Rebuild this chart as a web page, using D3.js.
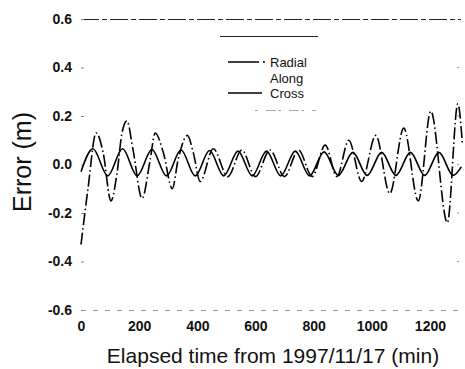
<!DOCTYPE html>
<html>
<head>
<meta charset="utf-8">
<script src="https://cdn.jsdelivr.net/npm/d3@7"></script>
<style>
  html, body { margin: 0; padding: 0; background: #fff; }
  svg { display: block; font-family: "Liberation Sans", Arial, sans-serif; }
</style>
</head>
<body>
<svg id="chart" width="465" height="369"></svg>
<script>
// ── Data ───────────────────────────────────────────────────────────────────
// [elapsed minutes, error in metres] at the turning points of each curve
const radial = [
  [0, -0.33], [24, -0.10], [52, 0.13], [76, 0.05], [103, -0.15], [124, -0.035],
  [141, 0.13], [158, 0.18], [179, 0.06], [210, -0.14], [238, 0.02], [255, 0.13],
  [283, 0.05], [314, -0.10], [334, 0.02], [366, 0.12], [386, 0.05], [410, -0.07],
  [455, 0.065], [505, -0.05], [553, 0.06], [600, -0.05], [650, 0.06], [700, -0.05],
  [748, 0.06], [795, -0.05], [840, 0.08], [880, -0.05], [921, 0.10], [965, -0.07],
  [1014, 0.12], [1062, -0.12], [1110, 0.15], [1160, -0.15], [1203, 0.22],
  [1260, -0.24], [1296, 0.25], [1312, 0.08]
];

const cross = [
  [0, -0.03], [41, 0.065], [92, -0.047], [143, 0.065], [193, -0.047], [244, 0.062],
  [294, -0.047], [344, 0.06], [393, -0.047], [442, 0.058], [491, -0.047], [540, 0.055],
  [589, -0.047], [638, 0.055], [687, -0.047], [737, 0.055], [786, -0.047], [836, 0.052],
  [885, -0.045], [935, 0.05], [984, -0.045], [1034, 0.05], [1083, -0.045], [1133, 0.05],
  [1182, -0.045], [1231, 0.05], [1280, -0.045], [1308, -0.01]
];

// "Along" is listed in the legend but its trace is not visible in the scan
const along = [];

const seriesNames = ['Radial', 'Along', 'Cross'];
const xTicks = [0, 200, 400, 600, 800, 1000, 1200];
const yTicks = [-0.6, -0.4, -0.2, 0.0, 0.2, 0.4, 0.6];
const yTickLabels = ['-0.6', '-0.4', '-0.2', '0.0', '0.2', '0.4', '0.6'];

// ── Layout ─────────────────────────────────────────────────────────────────
const plot = { left: 81, right: 459, top: 19, bottom: 310 };

const x = d3.scaleLinear().domain([0, 1300]).range([plot.left, plot.right]);
const y = d3.scaleLinear().domain([-0.6, 0.6]).range([plot.bottom, plot.top]);

const svg = d3.select('#chart');

// ── Frame (faint, broken like the scan) ────────────────────────────────────
svg.append('line')
  .attr('x1', plot.left).attr('x2', plot.right + 2)
  .attr('y1', plot.top + 0.5).attr('y2', plot.top + 0.5)
  .attr('stroke', '#222').attr('stroke-width', 1)
  .attr('stroke-dasharray', '18,3,5,3');

svg.append('line')
  .attr('x1', plot.left).attr('x2', plot.right + 2)
  .attr('y1', plot.bottom + 0.5).attr('y2', plot.bottom + 0.5)
  .attr('stroke', '#999').attr('stroke-width', 1)
  .attr('stroke-dasharray', '5,7');

// ── Axes ───────────────────────────────────────────────────────────────────
const yAxis = svg.append('g')
  .attr('transform', `translate(${plot.left},0)`)
  .call(d3.axisLeft(y)
    .tickValues(yTicks)
    .tickFormat((d, i) => yTickLabels[i])
    .tickSizeInner(-3)
    .tickSizeOuter(0)
    .tickPadding(9));

yAxis.select('.domain').remove();
yAxis.selectAll('.tick line').attr('stroke', '#888');
yAxis.selectAll('text')
  .attr('font-size', 14).attr('font-weight', 'bold')
  .attr('font-family', '"Liberation Sans", Arial, sans-serif')
  .attr('fill', '#111');

// small tick marks on the right edge
svg.append('g')
  .selectAll('line')
  .data(yTicks.slice(1, -1))
  .join('line')
    .attr('x1', plot.right - 2).attr('x2', plot.right)
    .attr('y1', d => y(d)).attr('y2', d => y(d))
    .attr('stroke', '#999');

const xAxis = svg.append('g')
  .attr('transform', `translate(0,${plot.bottom})`)
  .call(d3.axisBottom(x)
    .tickValues(xTicks)
    .tickFormat(d3.format('d'))
    .tickSize(0)
    .tickPadding(11));

xAxis.select('.domain').remove();
xAxis.selectAll('text')
  .attr('font-size', 14).attr('font-weight', 'bold')
  .attr('font-family', '"Liberation Sans", Arial, sans-serif')
  .attr('fill', '#111');

// ── Axis titles ────────────────────────────────────────────────────────────
svg.append('text')
  .attr('x', 273).attr('y', 363)
  .attr('text-anchor', 'middle')
  .attr('font-size', 21)
  .attr('fill', '#111')
  .text('Elapsed time from 1997/11/17 (min)');

svg.append('text')
  .attr('transform', 'translate(31,162) rotate(-90)')
  .attr('text-anchor', 'middle')
  .attr('font-size', 25)
  .attr('fill', '#111')
  .text('Error (m)');

// ── Series ─────────────────────────────────────────────────────────────────
const line = d3.line()
  .x(d => x(d[0]))
  .y(d => y(d[1]))
  .curve(d3.curveMonotoneX);

svg.append('path')
  .datum(cross)
  .attr('d', line)
  .attr('fill', 'none')
  .attr('stroke', '#000')
  .attr('stroke-width', 1.6);

svg.append('path')
  .datum(radial)
  .attr('d', line)
  .attr('fill', 'none')
  .attr('stroke', '#000')
  .attr('stroke-width', 1.6)
  .attr('stroke-dasharray', '12,3,1.5,3');

// ── Legend ─────────────────────────────────────────────────────────────────
const legend = svg.append('g').attr('class', 'legend');

legend.append('line')
  .attr('x1', 220).attr('x2', 318).attr('y1', 36.5).attr('y2', 36.5)
  .attr('stroke', '#222').attr('stroke-width', 1);
legend.append('line')
  .attr('x1', 255).attr('x2', 316).attr('y1', 110.5).attr('y2', 110.5)
  .attr('stroke', '#aaa').attr('stroke-width', 1)
  .attr('stroke-dasharray', '3,8,10,2');

const legendRows = [
  { name: seriesNames[0], y: 62, dash: '31,4,2,20' },
  { name: seriesNames[1], y: 78, dash: null, hidden: along.length === 0 },
  { name: seriesNames[2], y: 93, dash: null }
];

legendRows.forEach(r => {
  if (!r.hidden) {
    legend.append('line')
      .attr('x1', 228).attr('y1', r.y).attr('y2', r.y)
      .attr('x2', r.dash ? 266 : 262)
      .attr('stroke', '#000').attr('stroke-width', 1.6)
      .attr('stroke-dasharray', r.dash);
  }
  legend.append('text')
    .attr('x', 270).attr('y', r.y)
    .attr('dy', '0.35em')
    .attr('font-size', 13)
    .attr('fill', '#111')
    .text(r.name);
});
</script>
</body>
</html>
